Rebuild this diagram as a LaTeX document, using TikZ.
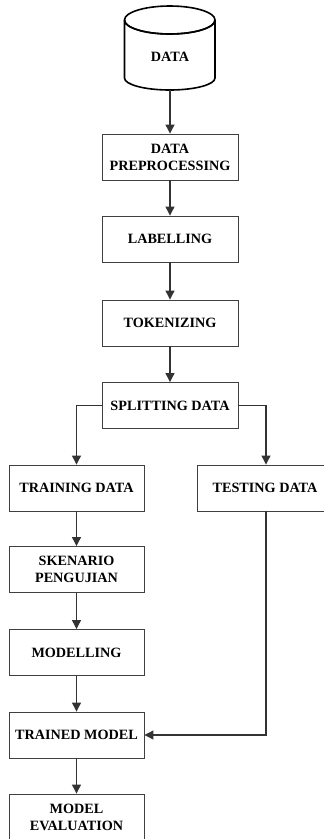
\documentclass[tikz,border=0pt]{standalone}
\usepackage{fontspec}
\setmainfont{Liberation Serif}
\usetikzlibrary{arrows.meta,positioning}
\begin{document}
\begin{tikzpicture}[x=1pt,y=-1pt,
  stepbox/.style={draw=black!75,line width=0.9pt,rectangle,minimum width=136pt,
    minimum height=46pt,inner sep=0pt,align=center,font=\fontsize{14.2}{17}\selectfont\bfseries},
  flow/.style={draw=black!80,line width=1.1pt,-{Triangle[width=9pt,length=9pt]}},
  lbl/.style={font=\fontsize{14.2}{17}\selectfont\bfseries}]
\useasboundingbox (0,0) rectangle (324,839);
\clip (0,0) rectangle (324,839);
% database cylinder (y grows downward here, so arcs through 90 degrees bulge down)
\draw[line width=1.6pt,fill=white] (124.5,20) -- (124.5,78)
  arc[start angle=180,end angle=0,x radius=45.25,y radius=12] -- (215,20)
  arc[start angle=0,end angle=-360,x radius=45.25,y radius=14];
\draw[line width=1.6pt] (124.5,20) arc[start angle=180,end angle=0,x radius=45.25,y radius=14];
\node[lbl] (data) at (170,57) {DATA};
\coordinate (dbbot) at (170,90);
% main column
\node[stepbox] (prep) at (170,157) {DATA\\PREPROCESSING};
\node[stepbox] (label) at (170,239) {LABELLING};
\node[stepbox] (token) at (170,323) {TOKENIZING};
\node[stepbox] (split) at (170,405.5) {SPLITTING DATA};
\node[stepbox,minimum width=135pt] (train) at (76.5,488) {TRAINING DATA};
\node[stepbox,minimum width=136pt] (test) at (265,488) {TESTING DATA};
\node[stepbox,minimum width=135pt] (skn) at (76.5,569.5) {SKENARIO\\PENGUJIAN};
\node[stepbox,minimum width=135pt] (model) at (76.5,652.5) {MODELLING};
\node[stepbox,minimum width=135pt] (trained) at (76.5,735) {TRAINED MODEL};
\node[stepbox,minimum width=135pt] (eval) at (76.5,817) {MODEL\\EVALUATION};
% connectors
\draw[flow] (dbbot) -- (prep.north);
\draw[flow] (prep) -- (label);
\draw[flow] (label) -- (token);
\draw[flow] (token) -- (split);
\draw[flow] (split.west) -| (train.north);
\draw[flow] (split.east) -| ([xshift=1pt]test.north);
\draw[flow] (train) -- (skn);
\draw[flow] (skn) -- (model);
\draw[flow] (model) -- (trained);
\draw[flow] (trained) -- (eval);
\draw[flow] ([xshift=1pt]test.south) |- (trained.east);
\end{tikzpicture}
\end{document}
